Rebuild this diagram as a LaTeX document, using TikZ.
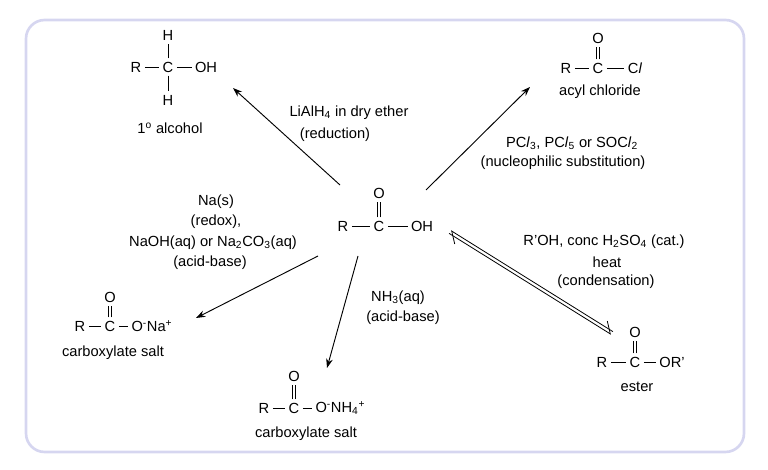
\documentclass[tikz,border=0pt]{standalone}
\usepackage{fontspec}
\setmainfont{Liberation Sans}
\usetikzlibrary{arrows.meta}
\definecolor{framecol}{RGB}{214,214,240}
\tikzset{every picture/.style={line width=0.75pt}}
\tikzset{
  atom/.style={inner sep=0.75pt,font=\fontsize{11}{13}\selectfont},
  lbl/.style={inner sep=0.75pt,font=\fontsize{11}{13}\selectfont},
  bond/.style={line width=0.6pt,shorten >=1.5pt,shorten <=1.5pt},
  rxn/.style={line width=0.7pt,-{Stealth[length=7pt,width=5pt]}},
}
\begin{document}
\begin{tikzpicture}[x=0.75pt,y=0.75pt,yscale=-1]
	\useasboundingbox (0,0) rectangle (768,470);
	%Frame
	\draw [framecol,line width=2pt,rounded corners=14] (26,20) rectangle (744,452);
	
	% Carboxylic acid (centre)
	\node [atom] (aR) at (343,226) {R};
	\node [atom] (aC) at (379,226) {C};
	\node [atom] (aOH) at (422,226) {OH};
	\node [atom] (aO) at (379,193) {O};
	\draw [bond] (aR) -- (aC);
	\draw [bond] (aC) -- (aOH);
	\draw [bond] ([xshift=-1.3]aC.north) -- ([xshift=-1.3]aO.south);
	\draw [bond] ([xshift=1.3]aC.north) -- ([xshift=1.3]aO.south);
	
	% Primary alcohol
	\node [atom] (bR) at (136,67) {R};
	\node [atom] (bC) at (168,67) {C};
	\node [atom] (bOH) at (206,67) {OH};
	\node [atom] (bH1) at (168,35) {H};
	\node [atom] (bH2) at (168,100) {H};
	\draw [bond] (bR) -- (bC);
	\draw [bond] (bC) -- (bOH);
	\draw [bond] (bC) -- (bH1);
	\draw [bond] (bC) -- (bH2);
	\node [lbl] (bL) at (170,128) {1\textsuperscript{o} alcohol};
	
	% Acyl chloride
	\node [atom] (cR) at (566,68) {R};
	\node [atom] (cC) at (598,68) {C};
	\node [atom] (cCl) at (635,68) {C\textit{l}};
	\node [atom] (cO) at (598,38) {O};
	\draw [bond] (cR) -- (cC);
	\draw [bond] (cC) -- (cCl);
	\draw [bond] ([xshift=-1.3]cC.north) -- ([xshift=-1.3]cO.south);
	\draw [bond] ([xshift=1.3]cC.north) -- ([xshift=1.3]cO.south);
	\node [lbl] (cL) at (600,92) {acyl chloride};
	
	% Sodium salt
	\node [atom] (dR) at (80,326) {R};
	\node [atom] (dC) at (110,326) {C};
	\node [atom,anchor=west] (dO) at (130,326) {O\textsuperscript{-}Na\textsuperscript{+}};
	\node [atom] (dO2) at (110,297) {O};
	\draw [bond] (dR) -- (dC);
	\draw [bond] (dC) -- (dO);
	\draw [bond] ([xshift=-1.3]dC.north) -- ([xshift=-1.3]dO2.south);
	\draw [bond] ([xshift=1.3]dC.north) -- ([xshift=1.3]dO2.south);
	\node [lbl] (dL) at (113,353) {carboxylate salt};
	
	% Ammonium salt
	\node [atom] (eR) at (264,408) {R};
	\node [atom] (eC) at (294,408) {C};
	\node [atom,anchor=west] (eO) at (314,408) {O\textsuperscript{-}NH\textsubscript{4}\textsuperscript{+}};
	\node [atom] (eO2) at (294,376) {O};
	\draw [bond] (eR) -- (eC);
	\draw [bond] (eC) -- (eO);
	\draw [bond] ([xshift=-1.3]eC.north) -- ([xshift=-1.3]eO2.south);
	\draw [bond] ([xshift=1.3]eC.north) -- ([xshift=1.3]eO2.south);
	\node [lbl] (eL) at (306,434) {carboxylate salt};
	
	% Ester
	\node [atom] (fR) at (602,362) {R};
	\node [atom] (fC) at (635,362) {C};
	\node [atom] (fOR) at (672,362) {OR'};
	\node [atom] (fO) at (635,332) {O};
	\draw [bond] (fR) -- (fC);
	\draw [bond] (fC) -- (fOR);
	\draw [bond] ([xshift=-1.3]fC.north) -- ([xshift=-1.3]fO.south);
	\draw [bond] ([xshift=1.3]fC.north) -- ([xshift=1.3]fO.south);
	\node [lbl] (fL) at (637,387) {ester};
	
	% Arrow ends
	\coordinate (p1) at (340,185);
	\coordinate (q1) at (233,88);
	\coordinate (p2) at (426,190);
	\coordinate (q2) at (530,87);
	\coordinate (p3) at (318,256);
	\coordinate (q3) at (196,318);
	\coordinate (p4) at (358,256);
	\coordinate (q4) at (327,368);
	\coordinate (p5) at (450,232);
	\coordinate (q5) at (612,333);
	\draw [rxn] (p1) -- (q1);
	\draw [rxn] (p2) -- (q2);
	\draw [rxn] (p3) -- (q3);
	\draw [rxn] (p4) -- (q4);
	\draw [line width=0.6pt,-{Straight Barb[left,length=7pt]}] ([shift={(-0.9,1.4)}]p5) -- ([shift={(-0.9,1.4)}]q5);
	\draw [line width=0.6pt,-{Straight Barb[left,length=7pt]}] ([shift={(0.9,-1.4)}]q5) -- ([shift={(0.9,-1.4)}]p5);
	
	% Conditions
	\node [lbl] (t1) at (349,113) {LiAlH\textsubscript{4} in dry ether};
	\node [lbl] (t2) at (335,135) {(reduction)};
	\node [lbl] (t3) at (572,143) {PC\textit{l}\textsubscript{3}, PC\textit{l}\textsubscript{5} or SOC\textit{l}\textsubscript{2}};
	\node [lbl] (t4) at (563,163) {(nucleophilic substitution)};
	\node [lbl] (t5) at (216,202) {Na(s)};
	\node [lbl] (t6) at (216,222) {(redox),};
	\node [lbl] (t7) at (213,243) {NaOH(aq) or Na\textsubscript{2}CO\textsubscript{3}(aq)};
	\node [lbl] (t8) at (210,263) {(acid-base)};
	\node [lbl] (t9) at (398,298) {NH\textsubscript{3}(aq)};
	\node [lbl] (t10) at (403,318) {(acid-base)};
	\node [lbl] (t11) at (604,242) {R'OH, conc H\textsubscript{2}SO\textsubscript{4} (cat.)};
	\node [lbl] (t12) at (607,262) {heat};
	\node [lbl] (t13) at (606,282) {(condensation)};
\end{tikzpicture}
\end{document}
